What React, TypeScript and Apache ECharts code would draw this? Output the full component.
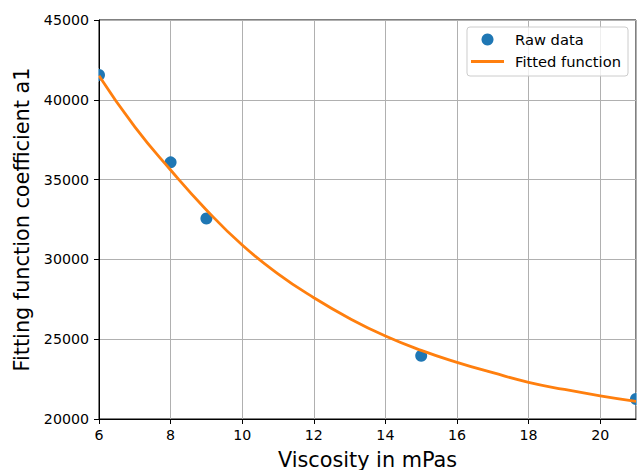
import React, { useEffect, useRef } from "react";
import * as echarts from "echarts";

const rawX = [6, 8, 9, 15, 21];
const rawY = [41560, 36080, 32560, 23960, 21250];

const fitX = [6, 7, 8, 9, 10, 11, 12, 13, 14, 15, 16, 17, 18, 19, 20, 21];
const fitY = [41500, 38300, 35600, 33100, 30900, 29100, 27600, 26300, 25200, 24300, 23550, 22900, 22300, 21850, 21450, 21100];

const xTicks = { min: 6, max: 21, interval: 2 };
const yTicks = { min: 20000, max: 45000, interval: 5000 };

const FONT = "DejaVu Sans";

export default function App() {
  const ref = useRef<HTMLDivElement>(null);
  useEffect(() => {
    if (!ref.current) return;
    const chart = echarts.init(ref.current, undefined, { renderer: "svg" });
    const axisCommon = {
      axisLine: { show: true, onZero: false, lineStyle: { color: "#000", width: 1 } },
      axisTick: { show: true, inside: false, length: 5, lineStyle: { color: "#000", width: 1 } },
      splitLine: { show: true, lineStyle: { color: "#b0b0b0", width: 1 } },
      axisLabel: { color: "#000", fontFamily: FONT, fontSize: 14.2, formatter: (v: number) => String(v) },
      nameTextStyle: { color: "#000", fontFamily: FONT, fontSize: 20.8 },
      nameLocation: "middle" as const,
    };
    chart.setOption({
      animation: false,
      backgroundColor: "#fff",
      grid: {
        left: 99, right: 2, top: 20, bottom: 51,
        outerBoundsMode: "none",
        containLabel: false,
        show: true, borderColor: "#000", borderWidth: 1, backgroundColor: "transparent",
      },
      xAxis: {
        type: "value",
        ...xTicks,
        name: "Viscosity in mPas",
        nameGap: 30,
        ...axisCommon,
        axisLabel: { ...axisCommon.axisLabel, margin: 9, showMaxLabel: false },
      },
      yAxis: {
        type: "value",
        ...yTicks,
        name: "Fitting function coefficient a1",
        nameGap: 57,
        ...axisCommon,
        axisLabel: { ...axisCommon.axisLabel, margin: 10 },
      },
      legend: {
        orient: "vertical",
        right: 10,
        top: 27,
        padding: [5, 7, 7, 4],
        itemWidth: 33,
        itemHeight: 12,
        itemGap: 7,
        backgroundColor: "rgba(255,255,255,0.8)",
        borderColor: "#cccccc",
        borderWidth: 1,
        borderRadius: 3,
        textStyle: { color: "#000", fontFamily: FONT, fontSize: 14.7, padding: [0, 0, 0, 6] },
        data: [
          { name: "Raw data", icon: "circle" },
          { name: "Fitted function", icon: "path://M0,0H33V2.8H0Z" },
        ],
      },
      series: [
        {
          name: "Raw data",
          type: "scatter",
          data: rawX.map((x, i) => [x, rawY[i]]),
          symbolSize: 12,
          itemStyle: { color: "#1f77b4", opacity: 1 },
          z: 2,
          clip: false,
        },
        {
          name: "Fitted function",
          type: "line",
          data: fitX.map((x, i) => [x, fitY[i]]),
          smooth: true,
          showSymbol: false,
          symbol: "none",
          lineStyle: { color: "#ff7f0e", width: 2.8 },
          itemStyle: { color: "#ff7f0e" },
          z: 3,
        },
      ],
    });
    // mask the parts of the edge markers that lie outside the plot frame
    const pL = chart.convertToPixel({ gridIndex: 0 }, [rawX[0], rawY[0]]) as number[];
    const pR = chart.convertToPixel({ gridIndex: 0 }, [rawX[rawX.length - 1], rawY[rawY.length - 1]]) as number[];
    chart.setOption({
      graphic: [
        { type: "rect", z: 10, shape: { x: pL[0] - 8, y: pL[1] - 7, width: 7.4, height: 14 }, style: { fill: "#fff" } },
        { type: "rect", z: 10, shape: { x: pR[0] + 0.6, y: pR[1] - 7, width: 8, height: 14 }, style: { fill: "#fff" } },
      ],
    });
    return () => chart.dispose();
  }, []);
  return <div ref={ref} style={{ position: "fixed", left: 0, top: 0, width: 638, height: 470 }} />;
}
